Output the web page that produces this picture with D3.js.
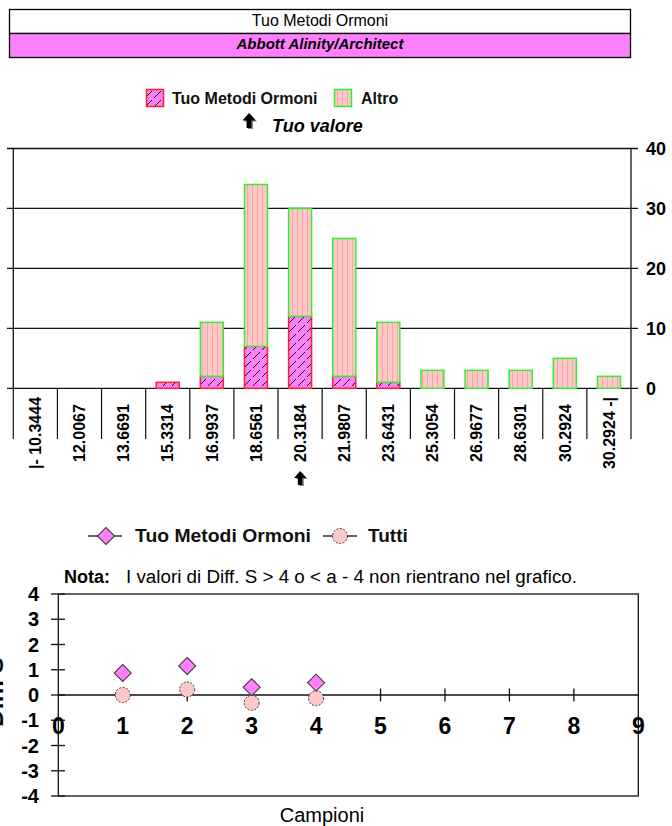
<!DOCTYPE html>
<html>
<head>
<meta charset="utf-8">
<script src="https://cdn.jsdelivr.net/npm/d3@7"></script>
<style>
body { margin: 0; background: #ffffff; }
svg { display: block; }
</style>
</head>
<body>
<svg id="chart" width="672" height="826"></svg>
<script>
// histogram data
var categories = ["|- 10.3444", "12.0067", "13.6691", "15.3314", "16.9937", "18.6561", "20.3184",
                  "21.9807", "23.6431", "25.3054", "26.9677", "28.6301", "30.2924", "30.2924 -|"];
var tuoCounts   = [0, 0, 0, 1, 2, 7, 12, 2, 1, 0, 0, 0, 0, 0];
var altroCounts = [0, 0, 0, 0, 9, 27, 18, 23, 10, 3, 3, 3, 5, 2];
var countTicks  = [0, 10, 20, 30, 40];
var ownBin = "20.3184";

// diff S data
var samples     = [1, 2, 3, 4];
var tuoDiff     = [0.87, 1.15, 0.31, 0.49];
var tuttiDiff   = [0.0, 0.22, -0.31, -0.13];
var diffTicks   = [-4, -3, -2, -1, 0, 1, 2, 3, 4];
var sampleTicks = [0, 1, 2, 3, 4, 5, 6, 7, 8, 9];

var FONT = "'Liberation Sans', Arial, sans-serif";
var MAGENTA = "#ff80ff", PINK = "#ffc8c8";

var svg = d3.select("#chart");
var defs = svg.append("defs");

// hatch patterns
var pTuo = defs.append("pattern").attr("id", "hatchTuo")
    .attr("patternUnits", "userSpaceOnUse").attr("width", 9).attr("height", 9);
pTuo.append("rect").attr("width", 9).attr("height", 9).attr("fill", MAGENTA);
pTuo.append("path").attr("d", "M1,8 L8,1").attr("stroke", "#000").attr("stroke-width", 0.9);

var pAltro = defs.append("pattern").attr("id", "hatchAltro")
    .attr("patternUnits", "userSpaceOnUse").attr("width", 5).attr("height", 5);
pAltro.append("rect").attr("width", 5).attr("height", 5).attr("fill", PINK);
pAltro.append("rect").attr("x", 2).attr("width", 1).attr("height", 5).attr("fill", "#f8a4a4");

function upArrow(g, cx, top, w, h) {
    var sw = w * 0.38, hh = h * 0.5;
    var d = "M" + cx + "," + top + " L" + (cx + w / 2) + "," + (top + hh) + " L" + (cx + sw / 2) + "," + (top + hh) +
            " L" + (cx + sw / 2) + "," + (top + h) + " L" + (cx - sw / 2) + "," + (top + h) + " L" + (cx - sw / 2) + "," + (top + hh) +
            " L" + (cx - w / 2) + "," + (top + hh) + " Z";
    g.append("path").attr("d", d).attr("fill", "#888").attr("transform", "translate(1.5,1)");
    g.append("path").attr("d", d).attr("fill", "#000");
}

// ---- header box
var head = svg.append("g");
head.append("rect").attr("x", 9.5).attr("y", 9.5).attr("width", 621).attr("height", 24)
    .attr("fill", "#fff").attr("stroke", "#000").attr("stroke-width", 1.3);
head.append("rect").attr("x", 9.5).attr("y", 33.5).attr("width", 621).attr("height", 24)
    .attr("fill", MAGENTA).attr("stroke", "#000").attr("stroke-width", 1.3);
head.append("text").attr("x", 320).attr("y", 25.5).attr("text-anchor", "middle")
    .attr("font-family", FONT).attr("font-size", 16).text("Tuo Metodi Ormoni");
head.append("text").attr("x", 320).attr("y", 49).attr("text-anchor", "middle")
    .attr("font-family", FONT).attr("font-size", 15).attr("font-weight", "bold").attr("font-style", "italic")
    .text("Abbott Alinity/Architect");

// ---- histogram legend
var leg = svg.append("g").attr("font-family", FONT).attr("font-weight", "bold").attr("font-size", 16);
leg.append("rect").attr("x", 146.5).attr("y", 89.5).attr("width", 17).attr("height", 17)
    .attr("fill", "url(#hatchTuo)").attr("stroke", "#ff2020").attr("stroke-width", 1.5);
leg.append("text").attr("x", 172).attr("y", 103.5).attr("fill", "#111").text("Tuo Metodi Ormoni");
leg.append("rect").attr("x", 334.5).attr("y", 89.5).attr("width", 17).attr("height", 17)
    .attr("fill", "url(#hatchAltro)").attr("stroke", "#33ee33").attr("stroke-width", 1.5);
leg.append("text").attr("x", 361).attr("y", 103.5).attr("fill", "#111").text("Altro");
upArrow(leg, 249, 113, 13, 15);
leg.append("text").attr("x", 272).attr("y", 132).attr("font-size", 18).attr("font-style", "italic")
    .text("Tuo valore");

// ---- histogram
var x = d3.scaleBand().domain(categories).range([13.3, 631]);
var y = d3.scaleLinear().domain([0, 40]).range([388.3, 148.5]);
var barW = 23;
var hist = svg.append("g");

hist.selectAll(".grid").data(countTicks).enter().append("line")
    .attr("x1", 7).attr("x2", 638)
    .attr("y1", function(d){ return y(d) }).attr("y2", function(d){ return y(d) })
    .attr("stroke", "#111").attr("stroke-width", 1.3);
[13.3, 631].forEach(function(ax){
    hist.append("line").attr("x1", ax).attr("x2", ax).attr("y1", y(40)).attr("y2", y(0))
        .attr("stroke", "#111").attr("stroke-width", 1.3);
});
hist.selectAll(".ylab").data(countTicks).enter().append("text")
    .attr("x", 646).attr("y", function(d){ return y(d) }).attr("dy", "0.36em")
    .attr("font-family", FONT).attr("font-weight", "bold").attr("font-size", 18)
    .text(function(d){ return d });

// separators below axis
var bounds = categories.map(function(c){ return x(c) }).concat([x.range()[1]]);
hist.selectAll(".sep").data(bounds).enter().append("line")
    .attr("x1", function(d){ return d }).attr("x2", function(d){ return d })
    .attr("y1", y(0)).attr("y2", 439)
    .attr("stroke", "#111").attr("stroke-width", 1.2);

categories.forEach(function(c, i){
    var bx = x(c) + x.bandwidth() / 2 - barW / 2;
    var t = tuoCounts[i], a = altroCounts[i];
    if (t > 0) {
        hist.append("rect").attr("x", bx).attr("y", y(t)).attr("width", barW).attr("height", y(0) - y(t))
            .attr("fill", "url(#hatchTuo)").attr("stroke", "#ff2020").attr("stroke-width", 1.5);
    }
    if (t + a > 0) {
        hist.append("rect").attr("x", bx).attr("y", y(t + a)).attr("width", barW).attr("height", y(t) - y(t + a))
            .attr("fill", "url(#hatchAltro)").attr("stroke", "#33ee33").attr("stroke-width", 1.5);
    }
});

hist.selectAll(".xlab").data(categories).enter().append("text")
    .attr("transform", function(d){ return "translate(" + (x(d) + x.bandwidth() / 2) + ",433) rotate(-90)" })
    .attr("dy", "0.36em").attr("text-anchor", "middle")
    .attr("font-family", FONT).attr("font-weight", "bold").attr("font-size", 16)
    .text(function(d){ return d });
upArrow(hist, x(ownBin) + x.bandwidth() / 2, 471, 12, 14);

// ---- diff S chart
var sx = d3.scaleLinear().domain([0, 9]).range([58.3, 638.3]);
var sy = d3.scaleLinear().domain([-4, 4]).range([796, 594]);
var sc = svg.append("g");

// legend
var sl = sc.append("g").attr("font-family", FONT).attr("font-weight", "bold").attr("font-size", 19);
sl.append("line").attr("x1", 88).attr("x2", 122).attr("y1", 536).attr("y2", 536).attr("stroke", "#333").attr("stroke-width", 1.3);
sl.append("path").attr("d", d3.symbol(d3.symbolSquare, 144)()).attr("transform", "translate(106,536) rotate(45)")
    .attr("fill", MAGENTA).attr("stroke", "#333").attr("stroke-width", 1);
sl.append("text").attr("x", 135).attr("y", 542).attr("fill", "#111")
    .attr("textLength", 176).attr("lengthAdjust", "spacingAndGlyphs").text("Tuo Metodi Ormoni");
sl.append("line").attr("x1", 323).attr("x2", 357).attr("y1", 536).attr("y2", 536).attr("stroke", "#333").attr("stroke-width", 1.3);
sl.append("path").attr("d", d3.symbol(d3.symbolCircle, 177)()).attr("transform", "translate(340,536)")
    .attr("fill", PINK).attr("stroke", "#333").attr("stroke-width", 1).attr("stroke-dasharray", "2,1.5");
sl.append("text").attr("x", 368).attr("y", 542).attr("fill", "#111").text("Tutti");

// note
sc.append("text").attr("x", 64).attr("y", 583).attr("font-family", FONT).attr("font-size", 18)
    .attr("font-weight", "bold").text("Nota:");
sc.append("text").attr("x", 126).attr("y", 583).attr("font-family", FONT).attr("font-size", 18)
    .attr("textLength", 451).attr("lengthAdjust", "spacingAndGlyphs")
    .text("I valori di Diff. S > 4 o < a - 4 non rientrano nel grafico.");

// frame and zero line
sc.append("rect").attr("x", sx(0)).attr("y", sy(4)).attr("width", sx(9) - sx(0)).attr("height", sy(-4) - sy(4))
    .attr("fill", "none").attr("stroke", "#111").attr("stroke-width", 1.3);
sc.append("line").attr("x1", sx(0)).attr("x2", sx(9)).attr("y1", sy(0)).attr("y2", sy(0))
    .attr("stroke", "#111").attr("stroke-width", 1.3);
sc.selectAll(".yt").data(diffTicks).enter().append("line")
    .attr("x1", 51).attr("x2", 65).attr("y1", function(d){ return sy(d) }).attr("y2", function(d){ return sy(d) })
    .attr("stroke", "#111").attr("stroke-width", 1.3);
sc.selectAll(".xt").data(sampleTicks.slice(1, 9)).enter().append("line")
    .attr("x1", function(d){ return sx(d) }).attr("x2", function(d){ return sx(d) })
    .attr("y1", sy(0) - 6.5).attr("y2", sy(0) + 6.5)
    .attr("stroke", "#111").attr("stroke-width", 1.3);
sc.selectAll(".yl").data(diffTicks).enter().append("text")
    .attr("x", 39).attr("y", function(d){ return sy(d) }).attr("dy", "0.36em").attr("text-anchor", "end")
    .attr("font-family", FONT).attr("font-weight", "bold").attr("font-size", 20)
    .text(function(d){ return d });
sc.selectAll(".xl").data(sampleTicks).enter().append("text")
    .attr("x", function(d){ return sx(d) }).attr("y", 734).attr("text-anchor", "middle")
    .attr("font-family", FONT).attr("font-weight", "bold").attr("font-size", 23)
    .text(function(d){ return d });

// points
sc.selectAll(".tutti").data(samples).enter().append("path")
    .attr("d", d3.symbol(d3.symbolCircle, 177)())
    .attr("transform", function(d, i){ return "translate(" + sx(d) + "," + sy(tuttiDiff[i]) + ")" })
    .attr("fill", PINK).attr("stroke", "#333").attr("stroke-width", 1).attr("stroke-dasharray", "2,1.5");
sc.selectAll(".tuo").data(samples).enter().append("path")
    .attr("d", d3.symbol(d3.symbolSquare, 144)())
    .attr("transform", function(d, i){ return "translate(" + sx(d) + "," + sy(tuoDiff[i]) + ") rotate(45)" })
    .attr("fill", MAGENTA).attr("stroke", "#333").attr("stroke-width", 1);

// axis titles (y title is clipped at the page edge, as in the original)
sc.append("text").attr("transform", "translate(3,692) rotate(-90)").attr("text-anchor", "middle")
    .attr("font-family", FONT).attr("font-weight", "bold").attr("font-size", 24).text("Diff. S");
sc.append("text").attr("x", 322).attr("y", 822).attr("text-anchor", "middle")
    .attr("font-family", FONT).attr("font-size", 20).text("Campioni");
</script>
</body>
</html>
